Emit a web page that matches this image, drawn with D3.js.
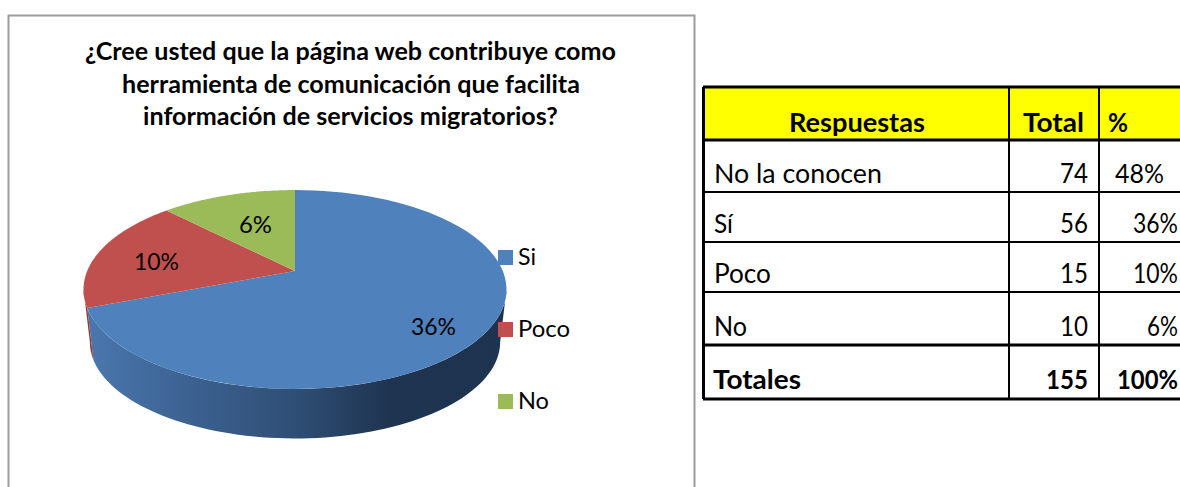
<!DOCTYPE html>
<html><head><meta charset="utf-8">
<script src="https://cdn.jsdelivr.net/npm/d3@7/dist/d3.min.js"></script>
<style>html,body{margin:0;padding:0;background:#fff;overflow:hidden}svg{display:block}text{font-family:Lato,"Open Sans",sans-serif;fill:#000}</style>
</head><body><svg id="c" width="1180" height="487"></svg>
<script>
const titleLines = ["¿Cree usted que la página web contribuye como","herramienta de comunicación que facilita","información de servicios migratorios?"];
const categories = ["Si","Poco","No"];
const values = [56,15,10];
const percentLabels = ["36%","10%","6%"];
const colors = ["#4f81bd","#c0504d","#9bbb59"];
const headers = ["Respuestas","Total","%"];
const rowNames = ["No la conocen","Sí","Poco","No"];
const rowTotals = [74,56,15,10];
const rowPercents = ["48%","36%","10%","6%"];
const totalsRow = ["Totales",155,"100%"];

const svg = d3.select("#c");
const W = 1180, H = 487;

// text helper: the fallback fonts differ from the original's, so widths are fitted horizontally
function label(sel, s, x, y, w, size, bold, anchor) {
  const t = sel.append("text").attr("font-size", size)
    .attr("font-weight", bold ? 700 : 400).attr("text-anchor", anchor || "start").text(s);
  const sx = w ? w / t.node().getComputedTextLength() : 1;
  t.attr("transform", `translate(${x},${y}) scale(${sx},1)`);
  return t;
}

// chart frame (its lower edge is cut off by the picture)
svg.append("path").attr("d", `M8.5,${H}V15.5H694.5V${H}`).attr("fill", "none").attr("stroke", "#9c9c9c").attr("stroke-width", 2);

const titleGeom = [[350.5,60,531],[351,93,458],[350.5,125,415]];
titleLines.forEach((s,i) => label(svg, s, titleGeom[i][0], titleGeom[i][1], titleGeom[i][2], 25, true, "middle"));

// 3D pie: a tilted disc in perspective
const apex = {x:295, y:271}, persp = 0.186, rxP = 207.8, ryP = 96, depth = 51, shrink = 0.97;
const pie = d3.pie().sort(null).value(d => d)(values);
function project(theta, level) {
  const u = Math.sin(theta), v = Math.cos(theta), k = 1 + persp * v;
  let x = rxP * u / k, y = -ryP * v / k;
  if (level) {
    const cy = 289.5 - apex.y;
    x *= shrink; y = cy + (y - cy) * shrink + depth + 1.5;
  }
  return [apex.x + x, apex.y + y];
}
const line = d3.line();
const steps = (a, b) => d3.range(0, 81).map(i => a + (b - a) * i / 80);

const defs = svg.append("defs");
const grad = defs.append("linearGradient").attr("id", "wall").attr("gradientUnits", "userSpaceOnUse")
  .attr("x1", 88).attr("x2", 505).attr("y1", 0).attr("y2", 0);
[[0,"#4a77ae"],[0.25,"#3c6190"],[0.5,"#2f4e74"],[0.72,"#1f3451"],[1,"#1e3350"]].forEach(s =>
  grad.append("stop").attr("offset", s[0]).attr("stop-color", s[1]));

// visible wall runs between the two horizontal extremes of the disc
const wallA = Math.acos(-persp), wallB = 2 * Math.PI - wallA;
const wallFill = ["url(#wall)", "#953c3a", "#748c43"];
pie.forEach((d,i) => {
  const a = Math.max(d.startAngle, wallA), b = Math.min(d.endAngle, wallB);
  if (b <= a) return;
  const pts = steps(a,b).map(t => project(t,0)).concat(steps(a,b).reverse().map(t => project(t,1)));
  svg.append("path").attr("d", line(pts) + "Z").attr("fill", wallFill[i]);
});
pie.forEach((d,i) => {
  const pts = [[apex.x, apex.y]].concat(steps(d.startAngle, d.endAngle).map(t => project(t,0)));
  svg.append("path").attr("d", line(pts) + "Z").attr("fill", colors[i]);
});

// data labels
const labelGeom = [[411,335,45],[134,270,45],[239,233,33]];
percentLabels.forEach((s,i) => label(svg, s, labelGeom[i][0], labelGeom[i][1], labelGeom[i][2], 24));

// legend
const legendY = d3.scalePoint().domain(categories).range([257,401]);
const legendW = [18,52,31];
categories.forEach((c,i) => {
  svg.append("rect").attr("x", 498).attr("y", legendY(c) - 7).attr("width", 15).attr("height", 15).attr("fill", colors[i]);
  label(svg, c, 518, legendY(c) + 8, legendW[i], 24);
});

// table
const xL = 703, xA = 1009, xB = 1099, xR = 1180;
const edges = [87,140,192,242,292,345,399];
const baselines = [132,183,233,283,336,389];
svg.append("rect").attr("x", xL).attr("y", edges[0]).attr("width", xR - xL).attr("height", edges[1] - edges[0]).attr("fill", "#ffff00");
const hl = (y, sw) => svg.append("line").attr("x1", xL).attr("x2", xR).attr("y1", y).attr("y2", y).attr("stroke", "#000").attr("stroke-width", sw);
edges.forEach((y,i) => hl(y, (i === 0 || i === 1 || i >= 5) ? 3 : 2));
svg.append("line").attr("x1", xL + .5).attr("x2", xL + .5).attr("y1", edges[0]).attr("y2", edges[6]).attr("stroke", "#000").attr("stroke-width", 3);
[xA, xB].forEach(x => svg.append("line").attr("x1", x).attr("x2", x).attr("y1", edges[0]).attr("y2", edges[6]).attr("stroke", "#000").attr("stroke-width", 2));

label(svg, headers[0], 789, baselines[0], 136, 27, true);
label(svg, headers[1], 1023, baselines[0], 61, 27, true);
label(svg, headers[2], 1108, baselines[0], 20, 27, true);

const nameW = [168,19,57,33];
const pctGeom = [[1115,49],[1133,45],[1133,45],[1147,31]];
rowNames.forEach((n,i) => {
  const y = baselines[i+1];
  label(svg, n, 714, y, nameW[i], 27);
  label(svg, String(rowTotals[i]), 1060, y, 28, 27);
  label(svg, rowPercents[i], pctGeom[i][0], y, pctGeom[i][1], 27);
});
const ty = baselines[5];
label(svg, totalsRow[0], 713, ty, 88, 27, true);
label(svg, String(totalsRow[1]), 1046, ty, 42, 27, true);
label(svg, totalsRow[2], 1117, ty, 61, 27, true);
</script></body></html>
